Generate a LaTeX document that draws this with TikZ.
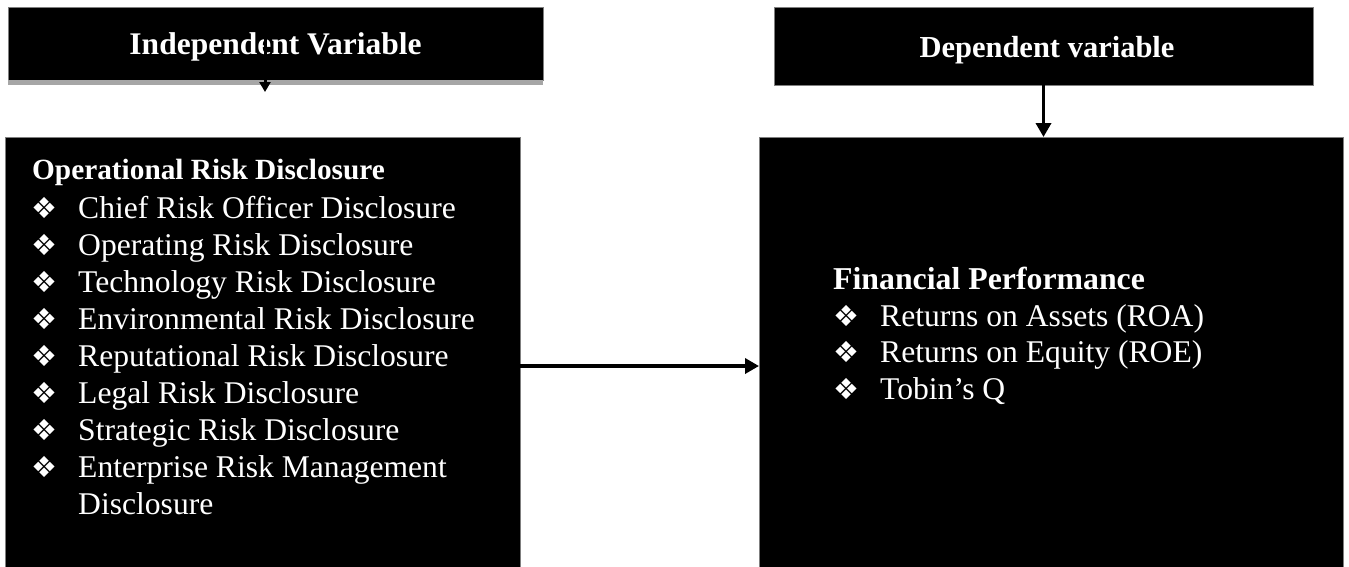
\documentclass[tikz,border=0pt]{standalone}
\usepackage{fontspec}
\setmainfont{Liberation Serif}
\newfontfamily\dingfont{DejaVu Sans}
\usetikzlibrary{arrows.meta}
\definecolor{edgegray}{HTML}{7F7F7F}
\definecolor{shadegray}{HTML}{A6A6A6}
\begin{document}
\begin{tikzpicture}[x=1pt,y=-1pt,
  box/.style={fill=black, draw=edgegray, line width=1pt, inner sep=0pt, outer sep=0pt, anchor=north west},
  headtext/.style={text=white, inner sep=0pt, anchor=base},
  grouptext/.style={text=white, inner sep=0pt, anchor=base west},
  itemtext/.style={text=white, font=\fontsize{31.6}{38}\selectfont, inner sep=0pt, anchor=base west},
  itembullet/.style={text=white, font=\dingfont\fontsize{29}{35}\selectfont, inner sep=0pt, anchor=base},
  conn/.style={line width=3.5pt, -{Triangle[length=14pt,width=15pt]}},
  smallconn/.style={line width=3pt, -{Triangle[length=10pt,width=11pt]}}
]
\clip (0,0) rectangle (1349,566);
\useasboundingbox (0,0) rectangle (1349,566);

% header boxes
\node[box, minimum width=535pt, minimum height=73pt] (indep) at (8,7) {};
\node[fill=shadegray, inner sep=0pt, anchor=north west, minimum width=535pt, minimum height=5pt] (indepshade) at (8,80) {};
\node[headtext, font=\fontsize{31.5}{38}\selectfont\bfseries] (indeplabel) at (275.5,54) {Independent Variable};

\node[box, minimum width=539pt, minimum height=78pt] (dep) at (774,7) {};
\node[headtext, font=\fontsize{30.5}{37}\selectfont\bfseries] (deplabel) at (1047,57) {Dependent variable};

% main boxes
\node[box, minimum width=515pt, minimum height=440pt] (ordbox) at (5,137) {};
\node[box, minimum width=584pt, minimum height=440pt] (perf) at (759,137) {};

% operational risk disclosure items
\node[grouptext, font=\fontsize{29.3}{35}\selectfont\bfseries] (ordtitle) at (32,179) {Operational Risk Disclosure};
\foreach \txt [count=\i from 0] in {Chief Risk Officer Disclosure, Operating Risk Disclosure,
    Technology Risk Disclosure, Environmental Risk Disclosure, Reputational Risk Disclosure,
    Legal Risk Disclosure, Strategic Risk Disclosure, Enterprise Risk Management}{
  \node[itembullet] (ordb\i) at (44,218+37*\i) {❖};
  \node[itemtext] (ordi\i) at (78,218+37*\i) {\txt};
}
\node[itemtext] (ordwrap) at (78,514) {Disclosure};

% financial performance items
\node[grouptext, font=\fontsize{31.8}{38}\selectfont\bfseries] (perftitle) at (833,289) {Financial Performance};
\foreach \txt [count=\i from 0] in {Returns on Assets (ROA), Returns on Equity (ROE), Tobin’s Q}{
  \node[itembullet] (perfb\i) at (846,326+36.5*\i) {❖};
  \node[itemtext] (perfi\i) at (880,326+36.5*\i) {\txt};
}

% connectors
\coordinate (indepstem) at (265,22);
\coordinate (indeptip) at (265,92);
\draw[smallconn] (indepstem) -- (indeptip);
\draw[conn] (dep.south) -- (dep.south |- perf.north);
\coordinate (arrowrow) at (0,366);
\draw[conn] (ordbox.east |- arrowrow) -- (perf.west |- arrowrow);
\end{tikzpicture}
\end{document}
